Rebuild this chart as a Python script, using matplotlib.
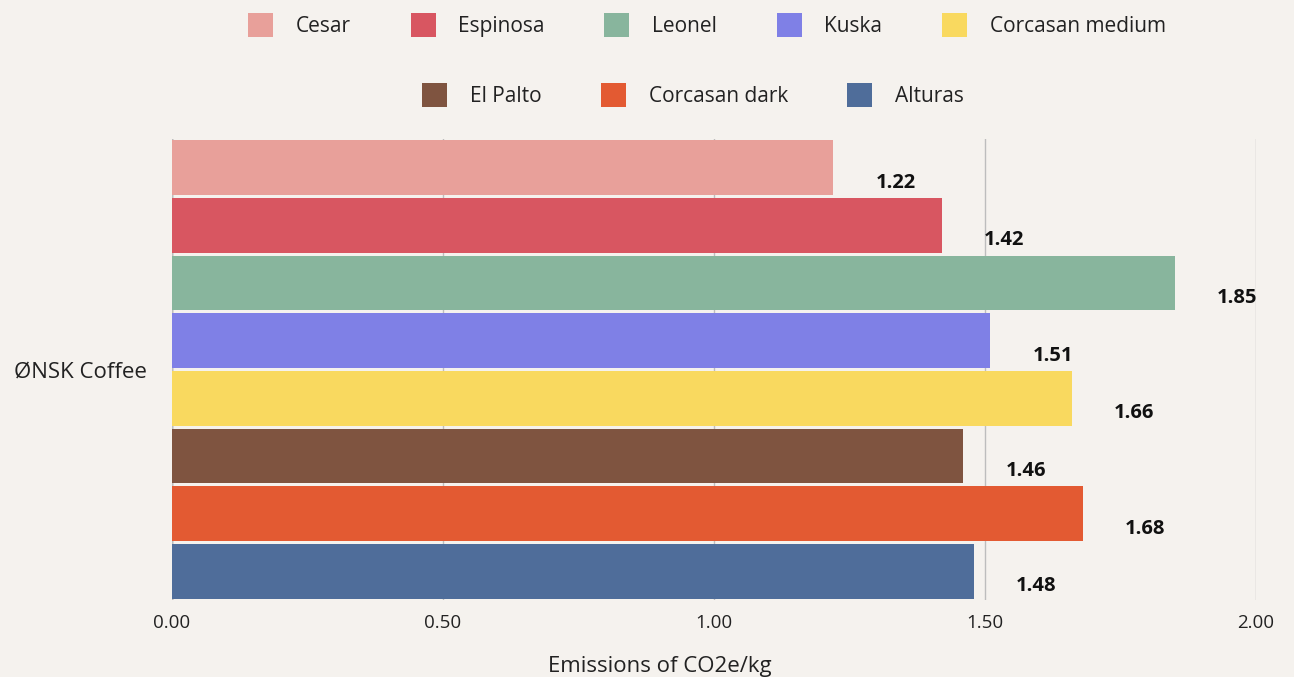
import numpy as np
import matplotlib.pyplot as plt
from matplotlib.patches import Patch

# dane
firma = 'ØNSK Coffee'
nazwy = ['Cesar', 'Espinosa', 'Leonel', 'Kuska', 'Corcasan medium',
         'El Palto', 'Corcasan dark', 'Alturas']
wartosci = [1.22, 1.42, 1.85, 1.51, 1.66, 1.46, 1.68, 1.48]
kolory = ['#E8A09A', '#D85661', '#88B59D', '#7F80E6', '#F9D95F',
          '#7F5440', '#E35A32', '#4F6D9A']
xticks = [0.0, 0.5, 1.0, 1.5, 2.0]

tlo = '#F5F2EE'
plt.rcParams['font.family'] = ['Open Sans', 'DejaVu Sans']

fig = plt.figure(figsize=(12.94, 6.77), dpi=100, facecolor=tlo)
ax = fig.add_axes([172/1294, 1-600/677, (1256-172)/1294, (600-139)/677])
ax.set_facecolor(tlo)

y = np.arange(len(wartosci))
ax.barh(y, wartosci, height=0.95, color=kolory, zorder=3)

# etykiety wartosci
for i, v in enumerate(wartosci):
    ax.text(v + 0.115, i + 0.26, f'{v:.2f}', ha='center', va='center',
            fontsize=14.5, fontweight='bold', color='#111111', zorder=4)

ax.set_xlim(0, 2.0)
ax.set_ylim(len(wartosci) - 0.5, -0.5)
ax.set_xticks(xticks)
ax.set_xticklabels([f'{t:.2f}' for t in xticks], fontsize=13.5, color='#222222')
ax.set_yticks([(len(wartosci) - 1) / 2])
ax.set_yticklabels([firma], fontsize=16, color='#222222')
ax.tick_params(axis='both', length=0)
ax.tick_params(axis='x', pad=10)
ax.tick_params(axis='y', pad=18)
ax.set_xlabel('Emissions of CO2e/kg', fontsize=16, color='#222222')
ax.xaxis.set_label_coords((660-172)/(1256-172), -0.122)

ax.grid(axis='x', color='#BDBDBD', linewidth=1, zorder=0)
ax.grid(axis='y', visible=False)
ax.axvline(0, color='#888888', linewidth=1, zorder=1)
for s in ax.spines.values():
    s.set_visible(False)

# legenda w dwoch wierszach
uchwyty = [Patch(facecolor=k, edgecolor='none') for k in kolory]
leg_args = dict(frameon=False, fontsize=15, handlelength=1.2, handleheight=1.4,
                handletextpad=1.1, columnspacing=2.85, loc='center',
                labelcolor='#222222')
fig.legend(uchwyty[:5], nazwy[:5], ncol=5,
           bbox_to_anchor=(707/1294, 1-25/677), **leg_args)
fig.legend(uchwyty[5:], nazwy[5:], ncol=3,
           bbox_to_anchor=(693/1294, 1-95/677), **leg_args)

fig.savefig('out.png', dpi=100, facecolor=tlo)
